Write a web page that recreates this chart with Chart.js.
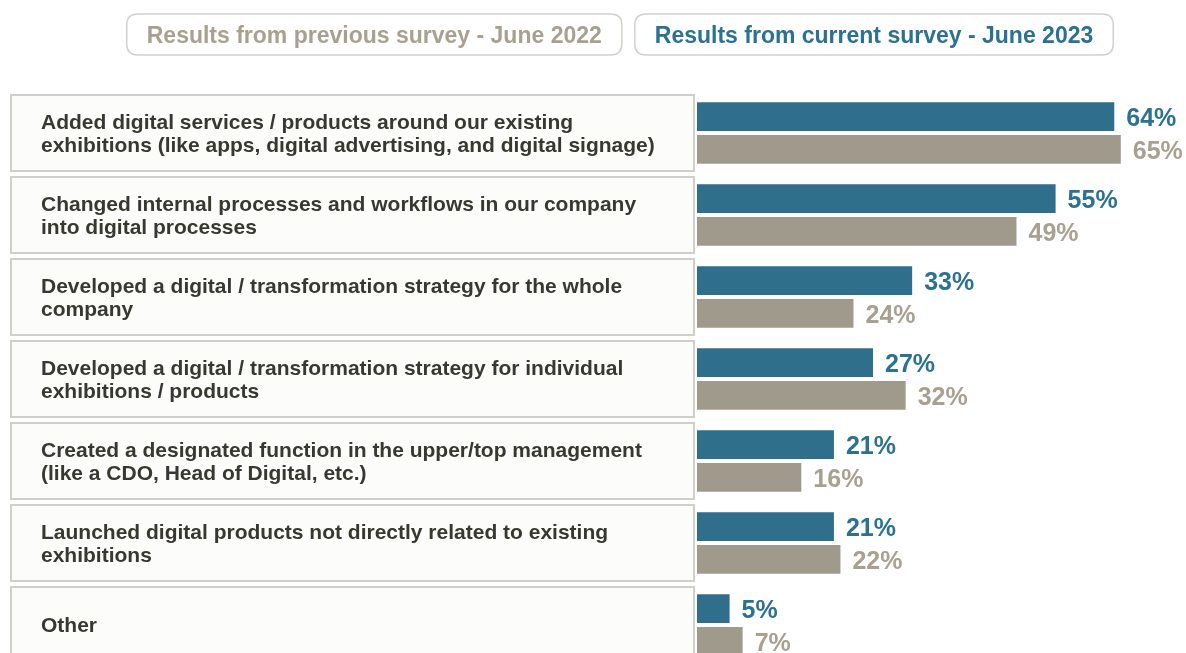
<!DOCTYPE html>
<html>
<head>
<meta charset="utf-8">
<script src="https://cdn.jsdelivr.net/npm/chart.js@4"></script>
<style>
  html, body { margin: 0; padding: 0; background: #ffffff; overflow: hidden; }
  #wrap { width: 1186px; height: 666px; position: relative; }
</style>
</head>
<body>
<div id="wrap"><canvas id="myChart" width="1186" height="666"></canvas></div>
<script>
// categories, one entry per row (lines as shown in the boxes)
const categories = [
  ['Added digital services / products around our existing', 'exhibitions (like apps, digital advertising, and digital signage)'],
  ['Changed internal processes and workflows in our company', 'into digital processes'],
  ['Developed a digital / transformation strategy for the whole', 'company'],
  ['Developed a digital / transformation strategy for individual', 'exhibitions / products'],
  ['Created a designated function in the upper/top management', '(like a CDO, Head of Digital, etc.)'],
  ['Launched digital products not directly related to existing', 'exhibitions'],
  ['Other']
];
// values in percent
const current2023 = [64, 55, 33, 27, 21, 21, 5];
const previous2022 = [65, 49, 24, 32, 16, 22, 7];
const seriesNames = ['Results from current survey - June 2023', 'Results from previous survey - June 2022'];

const BLUE = '#2f6f8b';
const GRAY = '#a09a8c';
const BLUE_TXT = '#2b7191';
const GRAY_TXT = '#a8a192';
const FONT = '"Liberation Sans", Arial, Helvetica, sans-serif';

function roundRect(ctx, x, y, w, h, r) {
  ctx.beginPath();
  ctx.moveTo(x + r, y);
  ctx.lineTo(x + w - r, y);
  ctx.quadraticCurveTo(x + w, y, x + w, y + r);
  ctx.lineTo(x + w, y + h - r);
  ctx.quadraticCurveTo(x + w, y + h, x + w - r, y + h);
  ctx.lineTo(x + r, y + h);
  ctx.quadraticCurveTo(x, y + h, x, y + h - r);
  ctx.lineTo(x, y + r);
  ctx.quadraticCurveTo(x, y, x + r, y);
  ctx.closePath();
}

// boxes with the category text on the left
const labelBoxes = {
  id: 'labelBoxes',
  beforeDatasetsDraw(chart) {
    const ctx = chart.ctx;
    const y = chart.scales.y;
    const band = (y.bottom - y.top) / categories.length;
    ctx.save();
    categories.forEach((lines, i) => {
      const cy = y.getPixelForValue(i);
      const top = cy - band / 2 + 3;
      const h = band - 6;
      ctx.fillStyle = '#fcfcfa';
      ctx.fillRect(10, top, 685, h);
      ctx.strokeStyle = '#cfcfcb';
      ctx.lineWidth = 2;
      ctx.strokeRect(11, top, 683, h);
      ctx.fillStyle = '#383831';
      ctx.font = 'bold 21px ' + FONT;
      ctx.textAlign = 'left';
      ctx.textBaseline = 'middle';
      const lh = 23;
      const start = cy + 1.5 - (lines.length - 1) * lh / 2;
      lines.forEach((t, k) => ctx.fillText(t, 41, start + k * lh));
    });
    ctx.restore();
  }
};

// percentage labels at the bar ends
const valueLabels = {
  id: 'valueLabels',
  afterDatasetsDraw(chart) {
    const ctx = chart.ctx;
    ctx.save();
    ctx.font = 'bold 25px ' + FONT;
    ctx.textAlign = 'left';
    ctx.textBaseline = 'middle';
    chart.data.datasets.forEach((ds, di) => {
      const meta = chart.getDatasetMeta(di);
      ctx.fillStyle = ds.labelColor;
      meta.data.forEach((bar, i) => {
        ctx.fillText(ds.data[i] + '%', bar.x + 12, bar.y + 2.5);
      });
    });
    ctx.restore();
  }
};

// the two legend pills at the top, previous survey first
const legendPills = {
  id: 'legendPills',
  afterDraw(chart) {
    const ctx = chart.ctx;
    ctx.save();
    ctx.font = 'bold 23px ' + FONT;
    ctx.textAlign = 'center';
    ctx.textBaseline = 'middle';
    const order = [1, 0];
    const widths = order.map(di => ctx.measureText(chart.data.datasets[di].label).width + 40);
    const gap = 13;
    let x = 620 - (widths[0] + widths[1] + gap) / 2;
    order.forEach((di, k) => {
      const ds = chart.data.datasets[di];
      roundRect(ctx, x, 14, widths[k], 41, 11);
      ctx.fillStyle = '#ffffff';
      ctx.fill();
      ctx.strokeStyle = '#d3d1cc';
      ctx.lineWidth = 1.5;
      ctx.stroke();
      ctx.fillStyle = ds.labelColor;
      ctx.fillText(ds.label, x + widths[k] / 2, 36.5);
      x += widths[k] + gap;
    });
    ctx.restore();
  }
};

let ctx = document.getElementById('myChart').getContext('2d');
let chart = new Chart(ctx, {
  type: 'bar',
  data: {
    labels: categories,
    datasets: [{
      label: seriesNames[0],
      data: current2023,
      backgroundColor: BLUE,
      labelColor: BLUE_TXT,
      categoryPercentage: 0.8,
      barPercentage: 0.88
    }, {
      label: seriesNames[1],
      data: previous2022,
      backgroundColor: GRAY,
      labelColor: GRAY_TXT,
      categoryPercentage: 0.8,
      barPercentage: 0.88
    }]
  },
  options: {
    indexAxis: 'y',
    responsive: false,
    animation: false,
    layout: { padding: { left: 697, top: 92, right: 0, bottom: 0 } },
    scales: {
      x: { min: 0, max: 75, display: false },
      y: { display: false }
    },
    plugins: {
      legend: { display: false },
      tooltip: { enabled: false }
    }
  },
  plugins: [labelBoxes, valueLabels, legendPills]
});
</script>
</body>
</html>
